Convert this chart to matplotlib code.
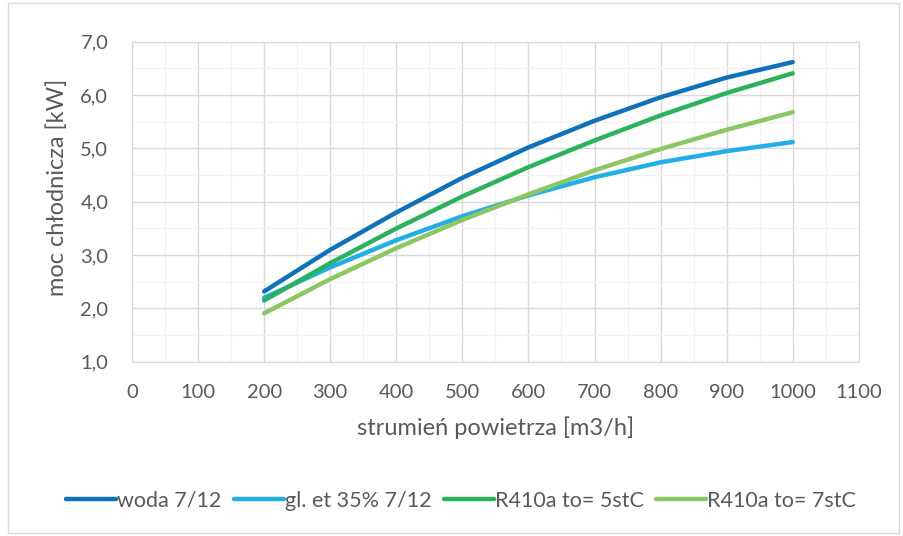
import matplotlib
matplotlib.use("Agg")
import matplotlib.pyplot as plt
from matplotlib.patches import Rectangle
from matplotlib.ticker import MultipleLocator

plt.rcParams['font.family'] = ['Lato', 'DejaVu Sans']

# przeplyw powietrza [m3/h]
airflow = [200, 300, 400, 500, 600, 700, 800, 900, 1000]
woda = [2.32, 3.10, 3.80, 4.45, 5.02, 5.52, 5.96, 6.33, 6.62]
glikol = [2.20, 2.77, 3.28, 3.73, 4.12, 4.46, 4.74, 4.95, 5.12]
r410a_5 = [2.15, 2.85, 3.50, 4.10, 4.65, 5.15, 5.62, 6.04, 6.41]
r410a_7 = [1.91, 2.55, 3.13, 3.66, 4.14, 4.59, 4.99, 5.35, 5.68]
names = ["woda 7/12", "gl. et 35% 7/12", "R410a to= 5stC", "R410a to= 7stC"]
colors = ["#0F71BA", "#22AEE6", "#2BB25C", "#8DC764"]

fig = plt.figure(figsize=(9.04, 5.36), dpi=100)
ax = fig.add_axes([0.146, 0.325, 0.804, 0.597])

for ys, name, c in zip([woda, glikol, r410a_5, r410a_7], names, colors):
    ax.plot(airflow, ys, color=c, lw=3.2, label=name, solid_capstyle='round')

ax.set_xlim(0, 1100)
ax.set_ylim(1.0, 7.0)
ax.xaxis.set_major_locator(MultipleLocator(100))
ax.xaxis.set_minor_locator(MultipleLocator(50))
ax.yaxis.set_major_locator(MultipleLocator(1.0))
ax.yaxis.set_minor_locator(MultipleLocator(0.5))
ax.grid(which='major', color='#D9D9D9', lw=1.0)
ax.grid(which='minor', color='#F2F2F2', lw=1.0)
ax.set_axisbelow(True)
for s in ax.spines.values():
    s.set_color('#D9D9D9')
ax.tick_params(which='both', length=0, labelsize=14.5, labelcolor='#595959')
ax.tick_params(axis='x', pad=16)
ax.tick_params(axis='y', pad=17)
ax.set_yticklabels([f"{v:.1f}".replace('.', ',') for v in ax.get_yticks()])

ax.set_xlabel("strumień powietrza [m3/h]", fontsize=17, color='#595959')
ax.set_ylabel("moc chłodnicza [kW]", fontsize=17, color='#595959')
ax.xaxis.set_label_coords(0.5, -0.172)
ax.yaxis.set_label_coords(-0.088, 0.545)

fig.legend(loc='center', bbox_to_anchor=(0.51, 0.066), ncol=4, frameon=False,
           fontsize=15.5, labelcolor='#595959', handlelength=2.3,
           handletextpad=0.05, columnspacing=0.6)

fig.patches.append(Rectangle((0.009, 0.005), 0.985, 0.99, transform=fig.transFigure,
                             fill=False, edgecolor='#D9D9D9', lw=1.0))

fig.savefig("out.png", dpi=100)
